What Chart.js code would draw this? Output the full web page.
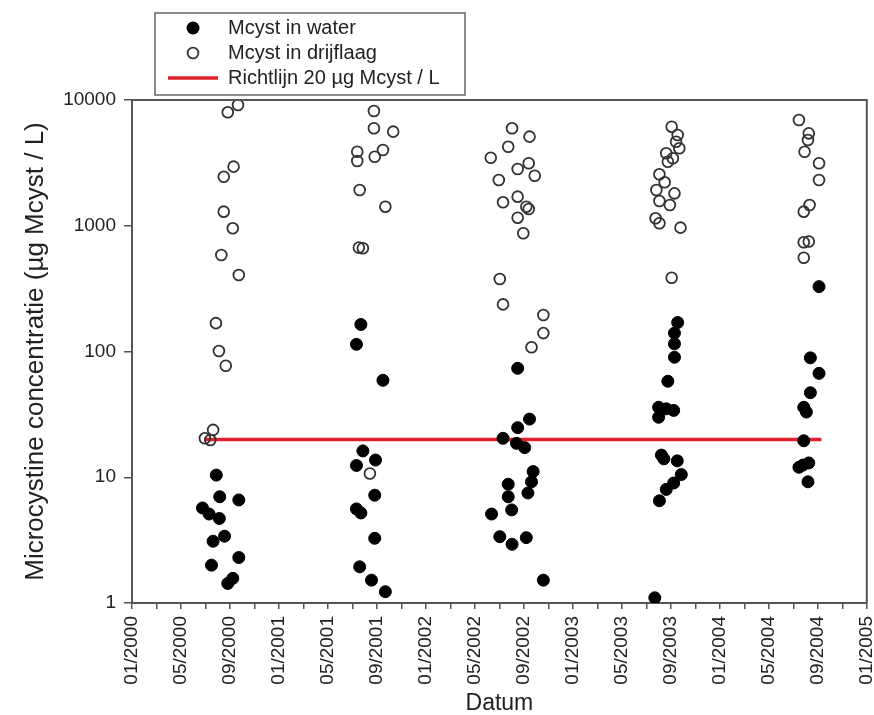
<!doctype html>
<html lang="nl">
<head>
    <meta charset="utf-8">
    <title>Microcystine concentratie</title>
    <script src="https://cdn.jsdelivr.net/npm/chart.js@4.4.1/dist/chart.umd.min.js"></script>
    <style>
        body { margin: 0; background: #fff; }
        #wrap { width: 874px; height: 715px; }
    </style>
</head>
<body>
<div id="wrap"><canvas id="myChart" width="874" height="715"></canvas></div>
<script>
    // x tick labels, one every 4 months
    var xTickLabels = ['01/2000', '05/2000', '09/2000', '01/2001', '05/2001', '09/2001', '01/2002', '05/2002',
        '09/2002', '01/2003', '05/2003', '09/2003', '01/2004', '05/2004', '09/2004', '01/2005'];
    var yTicks = [1, 10, 100, 1000, 10000];

    // Mcyst in water (filled dots)
    var waterDates = [
        '2000-07-28', '2000-08-06', '2000-09-23', '2000-06-24', '2000-07-10', '2000-08-05',
        '2000-07-20', '2000-08-18', '2000-07-16', '2000-09-23', '2000-08-26', '2000-09-08',
        '2001-07-22', '2001-07-11', '2001-09-16', '2001-07-27', '2001-08-28', '2001-07-11',
        '2001-08-26', '2001-07-11', '2001-07-22', '2001-08-26', '2001-07-19', '2001-08-18', '2001-09-22',
        '2002-08-16', '2002-09-15', '2002-08-16', '2002-07-10', '2002-08-13', '2002-09-03',
        '2002-09-24', '2002-09-20', '2002-07-23', '2002-09-11', '2002-07-23', '2002-08-01',
        '2002-06-12', '2002-07-02', '2002-08-02', '2002-09-07', '2002-10-19',
        '2003-09-18', '2003-09-10', '2003-09-10', '2003-09-10', '2003-08-24', '2003-08-01',
        '2003-08-20', '2003-09-08', '2003-08-01', '2003-08-08', '2003-08-14', '2003-09-17',
        '2003-09-27', '2003-09-08', '2003-08-20', '2003-08-03', '2003-07-22',
        '2004-09-04', '2004-08-13', '2004-09-04', '2004-08-13', '2004-07-27', '2004-08-03',
        '2004-07-27', '2004-07-15', '2004-08-09', '2004-07-25', '2004-08-07'
    ];
    var waterValues = [
        10.4, 7.0, 6.6, 5.7, 5.1, 4.7,
        3.1, 3.4, 2.0, 2.3, 1.43, 1.57,
        164, 114, 59, 16.2, 13.7, 12.4,
        7.2, 5.6, 5.2, 3.27, 1.94, 1.52, 1.23,
        73.5, 29, 24.8, 20.4, 18.6, 17.2,
        11.1, 9.2, 8.8, 7.5, 7.0, 5.5,
        5.1, 3.37, 2.93, 3.31, 1.52,
        170, 140, 115, 90, 58, 36,
        35, 34, 30, 15, 14, 13.5,
        10.5, 9.0, 8.0, 6.5, 1.1,
        328, 89, 67, 47, 36, 33,
        19.5, 12.0, 13.0, 12.5, 9.2
    ];

    // Mcyst in drijflaag (open circles)
    var drijfDates = [
        '2000-08-26', '2000-09-21', '2000-08-16', '2000-09-10', '2000-08-16', '2000-09-08',
        '2000-08-10', '2000-09-23', '2000-07-27', '2000-08-04', '2000-08-21', '2000-06-30',
        '2000-07-20', '2000-07-13',
        '2001-08-24', '2001-08-24', '2001-10-11', '2001-09-16', '2001-08-26', '2001-07-13',
        '2001-07-13', '2001-07-19', '2001-09-22', '2001-07-17', '2001-07-27', '2001-08-14',
        '2002-08-02', '2002-09-15', '2002-07-23', '2002-06-10', '2002-08-16', '2002-09-13',
        '2002-09-28', '2002-06-30', '2002-08-16', '2002-07-10', '2002-09-07', '2002-09-13',
        '2002-08-16', '2002-08-30', '2002-07-02', '2002-07-10', '2002-10-19', '2002-10-19', '2002-09-20',
        '2003-09-03', '2003-09-18', '2003-09-14', '2003-09-22', '2003-08-20', '2003-09-06',
        '2003-08-24', '2003-08-03', '2003-08-16', '2003-07-26', '2003-09-10', '2003-08-03',
        '2003-08-29', '2003-07-24', '2003-08-03', '2003-09-25', '2003-09-03',
        '2004-07-15', '2004-08-09', '2004-08-07', '2004-07-29', '2004-09-04', '2004-09-04',
        '2004-08-11', '2004-07-27', '2004-07-27', '2004-08-09', '2004-07-27'
    ];
    var drijfValues = [
        7980, 9120, 2455, 2950, 1294, 954,
        585, 406, 168, 101, 77, 20.4,
        23.8, 19.8,
        8180, 5960, 5600, 4000, 3540, 3880,
        3275, 1925, 1418, 670, 662, 10.7,
        5960, 5110, 4250, 3475, 2825, 3140,
        2500, 2310, 1703, 1536, 1418, 1360,
        1159, 871, 377, 237, 195, 140, 108,
        6135, 5270, 4660, 4130, 3770, 3440,
        3230, 2565, 2215, 1925, 1810, 1573,
        1462, 1146, 1046, 966, 386,
        6935, 5430, 4810, 3880, 3140, 2310,
        1462, 1294, 740, 750, 557
    ];

    // richtlijn 20 ug/L
    var guideDates = ['2000-07-01', '2004-09-10'];
    var guideValues = [20, 20];

    // months since 01/2000
    function toMonths(d) {
        var p = d.split('-');
        return (parseInt(p[0]) - 2000) * 12 + (parseInt(p[1]) - 1) + (parseInt(p[2]) - 1) / 30.5;
    }

    function toPoints(dates, values) {
        return dates.map(function (d, i) {
            return {x: toMonths(d), y: values[i]};
        });
    }

    var FONT = "'Liberation Sans', Arial, sans-serif";
    var AXIS = '#555';

    // frame round the plot + legend box
    var framePlugin = {
        id: 'frame',
        afterDraw: function (chart) {
            var ctx = chart.ctx, a = chart.chartArea;
            ctx.save();
            ctx.strokeStyle = AXIS;
            ctx.lineWidth = 2;
            ctx.beginPath();
            ctx.moveTo(a.left, a.top);
            ctx.lineTo(a.right, a.top);
            ctx.lineTo(a.right, a.bottom);
            ctx.stroke();

            // legend
            ctx.lineWidth = 1.5;
            ctx.strokeStyle = '#666';
            ctx.strokeRect(155, 13, 310, 82);
            ctx.fillStyle = '#000';
            ctx.beginPath();
            ctx.arc(193, 28, 6.5, 0, Math.PI * 2);
            ctx.fill();
            ctx.strokeStyle = '#333';
            ctx.lineWidth = 1.8;
            ctx.beginPath();
            ctx.arc(193, 53, 5.4, 0, Math.PI * 2);
            ctx.stroke();
            ctx.strokeStyle = '#e0202a';
            ctx.lineWidth = 3.5;
            ctx.beginPath();
            ctx.moveTo(168, 78);
            ctx.lineTo(218, 78);
            ctx.stroke();
            ctx.fillStyle = '#222';
            ctx.font = '20px ' + FONT;
            ctx.textBaseline = 'middle';
            ctx.fillText('Mcyst in water', 228, 28);
            ctx.fillText('Mcyst in drijflaag', 228, 53);
            ctx.fillText('Richtlijn 20 \u00b5g Mcyst / L', 228, 78);
            ctx.restore();
        }
    };

    var ctx = document.getElementById('myChart').getContext('2d');

    var myChart = new Chart(ctx, {
        type: 'scatter',
        data: {
            datasets: [{
                label: 'Richtlijn 20 \u00b5g Mcyst / L',
                type: 'line',
                data: toPoints(guideDates, guideValues),
                borderColor: '#e0202a',
                borderWidth: 3.5,
                pointRadius: 0,
                fill: false,
                order: 2
            }, {
                label: 'Mcyst in water',
                data: toPoints(waterDates, waterValues),
                backgroundColor: '#000',
                borderColor: '#000',
                borderWidth: 1,
                pointRadius: 6,
                order: 1
            }, {
                label: 'Mcyst in drijflaag',
                data: toPoints(drijfDates, drijfValues),
                backgroundColor: 'rgba(255,255,255,0)',
                borderColor: '#333',
                borderWidth: 1.8,
                pointRadius: 5.4,
                order: 0
            }]
        },
        options: {
            responsive: false,
            animation: false,
            layout: {padding: {left: 0, right: 7, top: 100, bottom: 0}},
            plugins: {
                legend: {display: false},
                tooltip: {enabled: false}
            },
            scales: {
                x: {
                    type: 'linear',
                    min: 0,
                    max: 60,
                    afterBuildTicks: function (scale) {
                        var t = [];
                        for (var m = 0; m <= 60; m += 2) t.push({value: m});
                        scale.ticks = t;
                    },
                    afterFit: function (scale) {
                        scale.height = 112;
                        scale.paddingLeft = 0;
                        scale.paddingRight = 0;
                    },
                    ticks: {
                        autoSkip: false,
                        minRotation: 90,
                        maxRotation: 90,
                        padding: 7,
                        color: '#222',
                        font: {family: FONT, size: 19},
                        callback: function (v) {
                            return v % 4 === 0 ? xTickLabels[v / 4] : '';
                        }
                    },
                    grid: {display: true, drawOnChartArea: false, drawTicks: true, tickLength: 6, color: AXIS, lineWidth: 1.5},
                    border: {display: true, color: AXIS, width: 2},
                    title: {display: true, text: 'Datum', color: '#222', font: {family: FONT, size: 23, lineHeight: 1}, padding: {top: 0, bottom: 0}}
                },
                y: {
                    type: 'logarithmic',
                    min: 1,
                    max: 10000,
                    afterBuildTicks: function (scale) {
                        scale.ticks = yTicks.map(function (v) { return {value: v}; });
                    },
                    afterFit: function (scale) {
                        scale.width = 132;
                        scale.paddingTop = 0;
                        scale.paddingBottom = 0;
                    },
                    ticks: {
                        padding: 8,
                        color: '#222',
                        font: {family: FONT, size: 19},
                        callback: function (v) { return String(v); }
                    },
                    grid: {display: true, drawOnChartArea: false, drawTicks: true, tickLength: 8, color: AXIS, lineWidth: 1.5},
                    border: {display: true, color: AXIS, width: 2},
                    title: {display: true, text: 'Microcystine concentratie (\u00b5g Mcyst / L)', color: '#222', font: {family: FONT, size: 26}, padding: {top: 20, bottom: 0}}
                }
            }
        },
        plugins: [framePlugin]
    });
</script>
</body>
</html>
